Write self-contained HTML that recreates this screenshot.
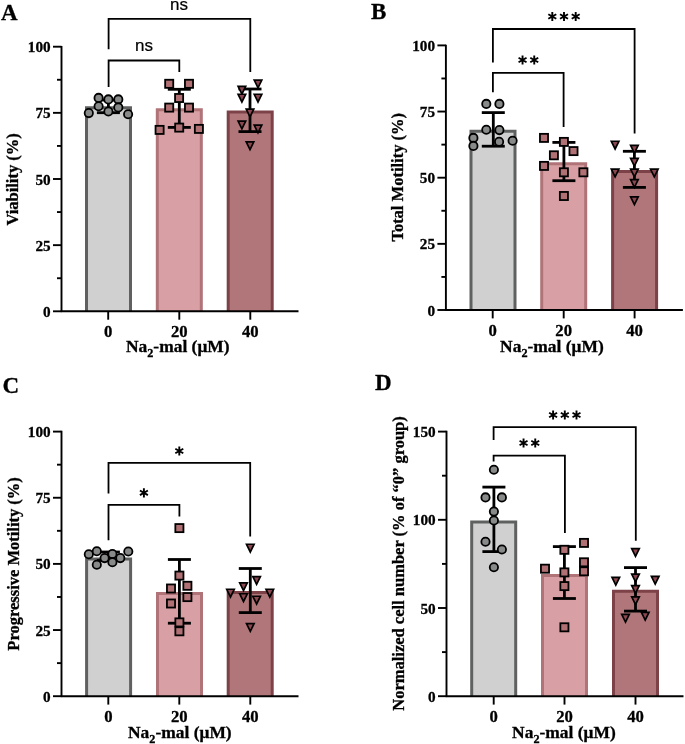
<!DOCTYPE html>
<html><head><meta charset="utf-8"><title>Figure</title>
<style>html,body{margin:0;padding:0;background:#fff;}svg{display:block;} text[font-weight="bold"]{stroke:#000;stroke-width:0.3px;} text[font-weight="normal"]{stroke:#000;stroke-width:0.2px;}</style></head>
<body style="will-change:transform"><svg width="685" height="744" viewBox="0 0 685 744">
<rect width="685" height="744" fill="#fff"/>
<path d="M86.5 311.3V107.8H130.5V311.3" fill="#d0d0d0" stroke="#5f6160" stroke-width="3.0"/>
<path d="M157.3 311.3V109.8H201.3V311.3" fill="#d8a0a4" stroke="#b07478" stroke-width="3.0"/>
<path d="M228.2 311.3V112H272.2V311.3" fill="#b0767a" stroke="#7c4248" stroke-width="3.0"/>
<line x1="108.4" y1="100" x2="108.4" y2="112.7" stroke="#000" stroke-width="2.8" stroke-linecap="butt"/>
<line x1="96.9" y1="100" x2="119.9" y2="100" stroke="#000" stroke-width="2.8" stroke-linecap="butt"/>
<line x1="96.9" y1="112.7" x2="119.9" y2="112.7" stroke="#000" stroke-width="2.8" stroke-linecap="butt"/>
<line x1="179.3" y1="89.3" x2="179.3" y2="127.4" stroke="#000" stroke-width="2.8" stroke-linecap="butt"/>
<line x1="167.8" y1="89.3" x2="190.8" y2="89.3" stroke="#000" stroke-width="2.8" stroke-linecap="butt"/>
<line x1="167.8" y1="127.4" x2="190.8" y2="127.4" stroke="#000" stroke-width="2.8" stroke-linecap="butt"/>
<line x1="250" y1="89" x2="250" y2="131.6" stroke="#000" stroke-width="2.8" stroke-linecap="butt"/>
<line x1="238.5" y1="89" x2="261.5" y2="89" stroke="#000" stroke-width="2.8" stroke-linecap="butt"/>
<line x1="238.5" y1="131.6" x2="261.5" y2="131.6" stroke="#000" stroke-width="2.8" stroke-linecap="butt"/>
<circle cx="98.6" cy="97.9" r="4.15" fill="#878a88" stroke="#000" stroke-width="1.8"/>
<circle cx="108.4" cy="99.4" r="4.15" fill="#878a88" stroke="#000" stroke-width="1.8"/>
<circle cx="118.3" cy="99.4" r="4.15" fill="#878a88" stroke="#000" stroke-width="1.8"/>
<circle cx="98.6" cy="106.2" r="4.15" fill="#878a88" stroke="#000" stroke-width="1.8"/>
<circle cx="118.3" cy="107.4" r="4.15" fill="#878a88" stroke="#000" stroke-width="1.8"/>
<circle cx="88.8" cy="113.1" r="4.15" fill="#878a88" stroke="#000" stroke-width="1.8"/>
<circle cx="108.4" cy="111.5" r="4.15" fill="#878a88" stroke="#000" stroke-width="1.8"/>
<circle cx="128.1" cy="114.2" r="4.15" fill="#878a88" stroke="#000" stroke-width="1.8"/>
<rect x="165.15" y="79.75" width="8.1" height="8.1" fill="#b07074" stroke="#000" stroke-width="1.8"/>
<rect x="184.95" y="79.75" width="8.1" height="8.1" fill="#b07074" stroke="#000" stroke-width="1.8"/>
<rect x="175.05" y="93.95" width="8.1" height="8.1" fill="#b07074" stroke="#000" stroke-width="1.8"/>
<rect x="165.15" y="103.55" width="8.1" height="8.1" fill="#b07074" stroke="#000" stroke-width="1.8"/>
<rect x="184.95" y="103.55" width="8.1" height="8.1" fill="#b07074" stroke="#000" stroke-width="1.8"/>
<rect x="155.55" y="125.85" width="8.1" height="8.1" fill="#b07074" stroke="#000" stroke-width="1.8"/>
<rect x="175.15" y="123.55" width="8.1" height="8.1" fill="#b07074" stroke="#000" stroke-width="1.8"/>
<rect x="194.85" y="124.85" width="8.1" height="8.1" fill="#b07074" stroke="#000" stroke-width="1.8"/>
<path d="M254.21 80.05L261.79 80.05L258 87.77Z" fill="#8c4850" stroke="#000" stroke-width="1.7" stroke-linejoin="miter"/>
<path d="M238.11 86.45L245.69 86.45L241.9 94.17Z" fill="#8c4850" stroke="#000" stroke-width="1.7" stroke-linejoin="miter"/>
<path d="M238.11 94.25L245.69 94.25L241.9 101.97Z" fill="#8c4850" stroke="#000" stroke-width="1.7" stroke-linejoin="miter"/>
<path d="M254.21 94.25L261.79 94.25L258 101.97Z" fill="#8c4850" stroke="#000" stroke-width="1.7" stroke-linejoin="miter"/>
<path d="M246.21 109.05L253.79 109.05L250 116.77Z" fill="#8c4850" stroke="#000" stroke-width="1.7" stroke-linejoin="miter"/>
<path d="M238.11 121.05L245.69 121.05L241.9 128.77Z" fill="#8c4850" stroke="#000" stroke-width="1.7" stroke-linejoin="miter"/>
<path d="M254.21 125.15L261.79 125.15L258 132.87Z" fill="#8c4850" stroke="#000" stroke-width="1.7" stroke-linejoin="miter"/>
<path d="M246.21 141.85L253.79 141.85L250 149.57Z" fill="#8c4850" stroke="#000" stroke-width="1.7" stroke-linejoin="miter"/>
<line x1="61.5" y1="45.95" x2="61.5" y2="312.05" stroke="#000" stroke-width="1.9" stroke-linecap="butt"/>
<line x1="60.75" y1="311.3" x2="298.5" y2="311.3" stroke="#000" stroke-width="1.9" stroke-linecap="butt"/>
<line x1="53" y1="311.3" x2="61.5" y2="311.3" stroke="#000" stroke-width="1.9" stroke-linecap="butt"/>
<text x="50.6" y="316.8" font-family='"Liberation Serif", serif' font-size="15.2" font-weight="bold" text-anchor="end" >0</text>
<line x1="53" y1="245.15" x2="61.5" y2="245.15" stroke="#000" stroke-width="1.9" stroke-linecap="butt"/>
<text x="50.6" y="250.65" font-family='"Liberation Serif", serif' font-size="15.2" font-weight="bold" text-anchor="end" >25</text>
<line x1="53" y1="179" x2="61.5" y2="179" stroke="#000" stroke-width="1.9" stroke-linecap="butt"/>
<text x="50.6" y="184.5" font-family='"Liberation Serif", serif' font-size="15.2" font-weight="bold" text-anchor="end" >50</text>
<line x1="53" y1="112.85" x2="61.5" y2="112.85" stroke="#000" stroke-width="1.9" stroke-linecap="butt"/>
<text x="50.6" y="118.35" font-family='"Liberation Serif", serif' font-size="15.2" font-weight="bold" text-anchor="end" >75</text>
<line x1="53" y1="46.7" x2="61.5" y2="46.7" stroke="#000" stroke-width="1.9" stroke-linecap="butt"/>
<text x="50.6" y="52.2" font-family='"Liberation Serif", serif' font-size="15.2" font-weight="bold" text-anchor="end" >100</text>
<line x1="57" y1="278.23" x2="61.5" y2="278.23" stroke="#000" stroke-width="1.9" stroke-linecap="butt"/>
<line x1="57" y1="212.07" x2="61.5" y2="212.07" stroke="#000" stroke-width="1.9" stroke-linecap="butt"/>
<line x1="57" y1="145.92" x2="61.5" y2="145.92" stroke="#000" stroke-width="1.9" stroke-linecap="butt"/>
<line x1="57" y1="79.77" x2="61.5" y2="79.77" stroke="#000" stroke-width="1.9" stroke-linecap="butt"/>
<line x1="108.2" y1="311.3" x2="108.2" y2="319.7" stroke="#000" stroke-width="1.9" stroke-linecap="butt"/>
<text x="108.2" y="336.8" font-family='"Liberation Serif", serif' font-size="16.7" font-weight="bold" text-anchor="middle" >0</text>
<line x1="179.3" y1="311.3" x2="179.3" y2="319.7" stroke="#000" stroke-width="1.9" stroke-linecap="butt"/>
<text x="179.3" y="336.8" font-family='"Liberation Serif", serif' font-size="16.7" font-weight="bold" text-anchor="middle" >20</text>
<line x1="250.3" y1="311.3" x2="250.3" y2="319.7" stroke="#000" stroke-width="1.9" stroke-linecap="butt"/>
<text x="250.3" y="336.8" font-family='"Liberation Serif", serif' font-size="16.7" font-weight="bold" text-anchor="middle" >40</text>
<text transform="translate(125.9 352.2) scale(1.02 1)" font-family='"Liberation Serif", serif' font-size="17.1" font-weight="bold">Na<tspan font-size="12" dy="4.6">2</tspan><tspan dy="-4.6">-mal (μM)</tspan></text>
<text transform="translate(18 179.4) rotate(-90) scale(1 1.06)" x="0" y="0" font-family='"Liberation Serif", serif' font-size="16.5" font-weight="bold" text-anchor="middle">Viability (%)</text>
<text x="1" y="19.7" font-family='"Liberation Serif", serif' font-size="23" font-weight="bold" text-anchor="start" >A</text>
<path d="M108.6 49.3V18.9H250.3V72.1" fill="none" stroke="#000" stroke-width="1.8"/>
<path d="M108.6 86.9V60.5H179.3V72.1" fill="none" stroke="#000" stroke-width="1.8"/>
<text x="179" y="10" font-family='"Liberation Sans", sans-serif' font-size="17" font-weight="normal" text-anchor="middle" >ns</text>
<text x="144" y="51.4" font-family='"Liberation Sans", sans-serif' font-size="17" font-weight="normal" text-anchor="middle" >ns</text>
<path d="M471 310V131.2H515V310" fill="#d0d0d0" stroke="#5f6160" stroke-width="3.0"/>
<path d="M541.7 310V163.8H585.7V310" fill="#d8a0a4" stroke="#b07478" stroke-width="3.0"/>
<path d="M612.6 310V171.5H656.6V310" fill="#b0767a" stroke="#7c4248" stroke-width="3.0"/>
<line x1="493.3" y1="112.6" x2="493.3" y2="146.2" stroke="#000" stroke-width="2.8" stroke-linecap="butt"/>
<line x1="481.8" y1="112.6" x2="504.8" y2="112.6" stroke="#000" stroke-width="2.8" stroke-linecap="butt"/>
<line x1="481.8" y1="146.2" x2="504.8" y2="146.2" stroke="#000" stroke-width="2.8" stroke-linecap="butt"/>
<line x1="563.9" y1="142.4" x2="563.9" y2="180.7" stroke="#000" stroke-width="2.8" stroke-linecap="butt"/>
<line x1="552.4" y1="142.4" x2="575.4" y2="142.4" stroke="#000" stroke-width="2.8" stroke-linecap="butt"/>
<line x1="552.4" y1="180.7" x2="575.4" y2="180.7" stroke="#000" stroke-width="2.8" stroke-linecap="butt"/>
<line x1="634.4" y1="151.3" x2="634.4" y2="187.4" stroke="#000" stroke-width="2.8" stroke-linecap="butt"/>
<line x1="622.9" y1="151.3" x2="645.9" y2="151.3" stroke="#000" stroke-width="2.8" stroke-linecap="butt"/>
<line x1="622.9" y1="187.4" x2="645.9" y2="187.4" stroke="#000" stroke-width="2.8" stroke-linecap="butt"/>
<circle cx="486.3" cy="103.9" r="4.15" fill="#878a88" stroke="#000" stroke-width="1.8"/>
<circle cx="499.4" cy="103.9" r="4.15" fill="#878a88" stroke="#000" stroke-width="1.8"/>
<circle cx="486.3" cy="129.7" r="4.15" fill="#878a88" stroke="#000" stroke-width="1.8"/>
<circle cx="499.4" cy="130.1" r="4.15" fill="#878a88" stroke="#000" stroke-width="1.8"/>
<circle cx="473.4" cy="137.9" r="4.15" fill="#878a88" stroke="#000" stroke-width="1.8"/>
<circle cx="512.6" cy="140.8" r="4.15" fill="#878a88" stroke="#000" stroke-width="1.8"/>
<circle cx="499.1" cy="141.8" r="4.15" fill="#878a88" stroke="#000" stroke-width="1.8"/>
<circle cx="473.4" cy="145.9" r="4.15" fill="#878a88" stroke="#000" stroke-width="1.8"/>
<rect x="539.95" y="133.85" width="8.1" height="8.1" fill="#b07074" stroke="#000" stroke-width="1.8"/>
<rect x="559.85" y="137.85" width="8.1" height="8.1" fill="#b07074" stroke="#000" stroke-width="1.8"/>
<rect x="569.45" y="147.05" width="8.1" height="8.1" fill="#b07074" stroke="#000" stroke-width="1.8"/>
<rect x="549.85" y="151.25" width="8.1" height="8.1" fill="#b07074" stroke="#000" stroke-width="1.8"/>
<rect x="539.95" y="161.85" width="8.1" height="8.1" fill="#b07074" stroke="#000" stroke-width="1.8"/>
<rect x="559.85" y="168.25" width="8.1" height="8.1" fill="#b07074" stroke="#000" stroke-width="1.8"/>
<rect x="579.35" y="168.25" width="8.1" height="8.1" fill="#b07074" stroke="#000" stroke-width="1.8"/>
<rect x="559.85" y="191.95" width="8.1" height="8.1" fill="#b07074" stroke="#000" stroke-width="1.8"/>
<path d="M611.31 141.25L618.89 141.25L615.1 148.97Z" fill="#8c4850" stroke="#000" stroke-width="1.7" stroke-linejoin="miter"/>
<path d="M630.61 145.45L638.19 145.45L634.4 153.17Z" fill="#8c4850" stroke="#000" stroke-width="1.7" stroke-linejoin="miter"/>
<path d="M630.61 158.35L638.19 158.35L634.4 166.07Z" fill="#8c4850" stroke="#000" stroke-width="1.7" stroke-linejoin="miter"/>
<path d="M611.31 169.15L618.89 169.15L615.1 176.87Z" fill="#8c4850" stroke="#000" stroke-width="1.7" stroke-linejoin="miter"/>
<path d="M630.61 169.15L638.19 169.15L634.4 176.87Z" fill="#8c4850" stroke="#000" stroke-width="1.7" stroke-linejoin="miter"/>
<path d="M650.51 169.15L658.09 169.15L654.3 176.87Z" fill="#8c4850" stroke="#000" stroke-width="1.7" stroke-linejoin="miter"/>
<path d="M630.61 179.65L638.19 179.65L634.4 187.37Z" fill="#8c4850" stroke="#000" stroke-width="1.7" stroke-linejoin="miter"/>
<path d="M630.61 196.85L638.19 196.85L634.4 204.57Z" fill="#8c4850" stroke="#000" stroke-width="1.7" stroke-linejoin="miter"/>
<line x1="445.9" y1="44.65" x2="445.9" y2="310.75" stroke="#000" stroke-width="1.9" stroke-linecap="butt"/>
<line x1="445.15" y1="310" x2="682.9" y2="310" stroke="#000" stroke-width="1.9" stroke-linecap="butt"/>
<line x1="437.4" y1="310" x2="445.9" y2="310" stroke="#000" stroke-width="1.9" stroke-linecap="butt"/>
<text x="435" y="315.5" font-family='"Liberation Serif", serif' font-size="15.2" font-weight="bold" text-anchor="end" >0</text>
<line x1="437.4" y1="243.85" x2="445.9" y2="243.85" stroke="#000" stroke-width="1.9" stroke-linecap="butt"/>
<text x="435" y="249.35" font-family='"Liberation Serif", serif' font-size="15.2" font-weight="bold" text-anchor="end" >25</text>
<line x1="437.4" y1="177.7" x2="445.9" y2="177.7" stroke="#000" stroke-width="1.9" stroke-linecap="butt"/>
<text x="435" y="183.2" font-family='"Liberation Serif", serif' font-size="15.2" font-weight="bold" text-anchor="end" >50</text>
<line x1="437.4" y1="111.55" x2="445.9" y2="111.55" stroke="#000" stroke-width="1.9" stroke-linecap="butt"/>
<text x="435" y="117.05" font-family='"Liberation Serif", serif' font-size="15.2" font-weight="bold" text-anchor="end" >75</text>
<line x1="437.4" y1="45.4" x2="445.9" y2="45.4" stroke="#000" stroke-width="1.9" stroke-linecap="butt"/>
<text x="435" y="50.9" font-family='"Liberation Serif", serif' font-size="15.2" font-weight="bold" text-anchor="end" >100</text>
<line x1="441.4" y1="276.93" x2="445.9" y2="276.93" stroke="#000" stroke-width="1.9" stroke-linecap="butt"/>
<line x1="441.4" y1="210.77" x2="445.9" y2="210.77" stroke="#000" stroke-width="1.9" stroke-linecap="butt"/>
<line x1="441.4" y1="144.62" x2="445.9" y2="144.62" stroke="#000" stroke-width="1.9" stroke-linecap="butt"/>
<line x1="441.4" y1="78.47" x2="445.9" y2="78.47" stroke="#000" stroke-width="1.9" stroke-linecap="butt"/>
<line x1="492.7" y1="310" x2="492.7" y2="318.4" stroke="#000" stroke-width="1.9" stroke-linecap="butt"/>
<text x="492.7" y="335.5" font-family='"Liberation Serif", serif' font-size="16.7" font-weight="bold" text-anchor="middle" >0</text>
<line x1="563.7" y1="310" x2="563.7" y2="318.4" stroke="#000" stroke-width="1.9" stroke-linecap="butt"/>
<text x="563.7" y="335.5" font-family='"Liberation Serif", serif' font-size="16.7" font-weight="bold" text-anchor="middle" >20</text>
<line x1="634.6" y1="310" x2="634.6" y2="318.4" stroke="#000" stroke-width="1.9" stroke-linecap="butt"/>
<text x="634.6" y="335.5" font-family='"Liberation Serif", serif' font-size="16.7" font-weight="bold" text-anchor="middle" >40</text>
<text transform="translate(500.1 352) scale(1.02 1)" font-family='"Liberation Serif", serif' font-size="17.1" font-weight="bold">Na<tspan font-size="12" dy="4.6">2</tspan><tspan dy="-4.6">-mal (μM)</tspan></text>
<text transform="translate(402.6 177.3) rotate(-90) scale(1 1.06)" x="0" y="0" font-family='"Liberation Serif", serif' font-size="16.5" font-weight="bold" text-anchor="middle">Total Motility (%)</text>
<text x="371" y="19.3" font-family='"Liberation Serif", serif' font-size="23" font-weight="bold" text-anchor="start" >B</text>
<path d="M492.9 62.5V29H634.6V133.6" fill="none" stroke="#000" stroke-width="1.8"/>
<path d="M492.9 92.2V72.8H563.6V126.9" fill="none" stroke="#000" stroke-width="1.8"/>
<path d="M552.3 21.1L552.3 11.9M548.32 18.8L556.28 14.2M548.32 14.2L556.28 18.8" stroke="#000" stroke-width="1.9" fill="none"/>
<path d="M564 21.1L564 11.9M560.02 18.8L567.98 14.2M560.02 14.2L567.98 18.8" stroke="#000" stroke-width="1.9" fill="none"/>
<path d="M575.7 21.1L575.7 11.9M571.72 18.8L579.68 14.2M571.72 14.2L579.68 18.8" stroke="#000" stroke-width="1.9" fill="none"/>
<path d="M522.55 64.6L522.55 55.4M518.57 62.3L526.53 57.7M518.57 57.7L526.53 62.3" stroke="#000" stroke-width="1.9" fill="none"/>
<path d="M534.25 64.6L534.25 55.4M530.27 62.3L538.23 57.7M530.27 57.7L538.23 62.3" stroke="#000" stroke-width="1.9" fill="none"/>
<path d="M86.6 696.2V558.9H130.6V696.2" fill="#d0d0d0" stroke="#5f6160" stroke-width="3.0"/>
<path d="M157.5 696.2V593.6H201.5V696.2" fill="#d8a0a4" stroke="#b07478" stroke-width="3.0"/>
<path d="M228.2 696.2V592.4H272.2V696.2" fill="#b0767a" stroke="#7c4248" stroke-width="3.0"/>
<line x1="108.4" y1="552" x2="108.4" y2="560.5" stroke="#000" stroke-width="2.8" stroke-linecap="butt"/>
<line x1="96.9" y1="552" x2="119.9" y2="552" stroke="#000" stroke-width="2.8" stroke-linecap="butt"/>
<line x1="96.9" y1="560.5" x2="119.9" y2="560.5" stroke="#000" stroke-width="2.8" stroke-linecap="butt"/>
<line x1="179.4" y1="559.5" x2="179.4" y2="623.2" stroke="#000" stroke-width="2.8" stroke-linecap="butt"/>
<line x1="167.9" y1="559.5" x2="190.9" y2="559.5" stroke="#000" stroke-width="2.8" stroke-linecap="butt"/>
<line x1="167.9" y1="623.2" x2="190.9" y2="623.2" stroke="#000" stroke-width="2.8" stroke-linecap="butt"/>
<line x1="250.3" y1="568.5" x2="250.3" y2="612.6" stroke="#000" stroke-width="2.8" stroke-linecap="butt"/>
<line x1="238.8" y1="568.5" x2="261.8" y2="568.5" stroke="#000" stroke-width="2.8" stroke-linecap="butt"/>
<line x1="238.8" y1="612.6" x2="261.8" y2="612.6" stroke="#000" stroke-width="2.8" stroke-linecap="butt"/>
<circle cx="88.8" cy="554.3" r="4.15" fill="#878a88" stroke="#000" stroke-width="1.8"/>
<circle cx="96.8" cy="551.3" r="4.15" fill="#878a88" stroke="#000" stroke-width="1.8"/>
<circle cx="112.4" cy="554" r="4.15" fill="#878a88" stroke="#000" stroke-width="1.8"/>
<circle cx="128.3" cy="551.5" r="4.15" fill="#878a88" stroke="#000" stroke-width="1.8"/>
<circle cx="104.6" cy="558.1" r="4.15" fill="#878a88" stroke="#000" stroke-width="1.8"/>
<circle cx="120.3" cy="558.1" r="4.15" fill="#878a88" stroke="#000" stroke-width="1.8"/>
<circle cx="96.8" cy="564.7" r="4.15" fill="#878a88" stroke="#000" stroke-width="1.8"/>
<circle cx="112.4" cy="562.3" r="4.15" fill="#878a88" stroke="#000" stroke-width="1.8"/>
<rect x="175.35" y="524.05" width="8.1" height="8.1" fill="#b07074" stroke="#000" stroke-width="1.8"/>
<rect x="175.35" y="571.55" width="8.1" height="8.1" fill="#b07074" stroke="#000" stroke-width="1.8"/>
<rect x="166.95" y="584.45" width="8.1" height="8.1" fill="#b07074" stroke="#000" stroke-width="1.8"/>
<rect x="183.35" y="581.75" width="8.1" height="8.1" fill="#b07074" stroke="#000" stroke-width="1.8"/>
<rect x="183.35" y="593.05" width="8.1" height="8.1" fill="#b07074" stroke="#000" stroke-width="1.8"/>
<rect x="166.95" y="599.45" width="8.1" height="8.1" fill="#b07074" stroke="#000" stroke-width="1.8"/>
<rect x="175.35" y="618.35" width="8.1" height="8.1" fill="#b07074" stroke="#000" stroke-width="1.8"/>
<rect x="175.35" y="627.25" width="8.1" height="8.1" fill="#b07074" stroke="#000" stroke-width="1.8"/>
<path d="M246.51 544.25L254.09 544.25L250.3 551.97Z" fill="#8c4850" stroke="#000" stroke-width="1.7" stroke-linejoin="miter"/>
<path d="M252.81 576.55L260.39 576.55L256.6 584.27Z" fill="#8c4850" stroke="#000" stroke-width="1.7" stroke-linejoin="miter"/>
<path d="M239.71 582.85L247.29 582.85L243.5 590.57Z" fill="#8c4850" stroke="#000" stroke-width="1.7" stroke-linejoin="miter"/>
<path d="M226.71 589.25L234.29 589.25L230.5 596.97Z" fill="#8c4850" stroke="#000" stroke-width="1.7" stroke-linejoin="miter"/>
<path d="M266.01 589.25L273.59 589.25L269.8 596.97Z" fill="#8c4850" stroke="#000" stroke-width="1.7" stroke-linejoin="miter"/>
<path d="M239.71 593.75L247.29 593.75L243.5 601.47Z" fill="#8c4850" stroke="#000" stroke-width="1.7" stroke-linejoin="miter"/>
<path d="M252.81 596.25L260.39 596.25L256.6 603.97Z" fill="#8c4850" stroke="#000" stroke-width="1.7" stroke-linejoin="miter"/>
<path d="M246.51 623.55L254.09 623.55L250.3 631.27Z" fill="#8c4850" stroke="#000" stroke-width="1.7" stroke-linejoin="miter"/>
<line x1="61.5" y1="430.85" x2="61.5" y2="696.95" stroke="#000" stroke-width="1.9" stroke-linecap="butt"/>
<line x1="60.75" y1="696.2" x2="298.5" y2="696.2" stroke="#000" stroke-width="1.9" stroke-linecap="butt"/>
<line x1="53" y1="696.2" x2="61.5" y2="696.2" stroke="#000" stroke-width="1.9" stroke-linecap="butt"/>
<text x="50.6" y="701.7" font-family='"Liberation Serif", serif' font-size="15.2" font-weight="bold" text-anchor="end" >0</text>
<line x1="53" y1="630.05" x2="61.5" y2="630.05" stroke="#000" stroke-width="1.9" stroke-linecap="butt"/>
<text x="50.6" y="635.55" font-family='"Liberation Serif", serif' font-size="15.2" font-weight="bold" text-anchor="end" >25</text>
<line x1="53" y1="563.9" x2="61.5" y2="563.9" stroke="#000" stroke-width="1.9" stroke-linecap="butt"/>
<text x="50.6" y="569.4" font-family='"Liberation Serif", serif' font-size="15.2" font-weight="bold" text-anchor="end" >50</text>
<line x1="53" y1="497.75" x2="61.5" y2="497.75" stroke="#000" stroke-width="1.9" stroke-linecap="butt"/>
<text x="50.6" y="503.25" font-family='"Liberation Serif", serif' font-size="15.2" font-weight="bold" text-anchor="end" >75</text>
<line x1="53" y1="431.6" x2="61.5" y2="431.6" stroke="#000" stroke-width="1.9" stroke-linecap="butt"/>
<text x="50.6" y="437.1" font-family='"Liberation Serif", serif' font-size="15.2" font-weight="bold" text-anchor="end" >100</text>
<line x1="57" y1="663.12" x2="61.5" y2="663.12" stroke="#000" stroke-width="1.9" stroke-linecap="butt"/>
<line x1="57" y1="596.98" x2="61.5" y2="596.98" stroke="#000" stroke-width="1.9" stroke-linecap="butt"/>
<line x1="57" y1="530.83" x2="61.5" y2="530.83" stroke="#000" stroke-width="1.9" stroke-linecap="butt"/>
<line x1="57" y1="464.68" x2="61.5" y2="464.68" stroke="#000" stroke-width="1.9" stroke-linecap="butt"/>
<line x1="108.3" y1="696.2" x2="108.3" y2="704.6" stroke="#000" stroke-width="1.9" stroke-linecap="butt"/>
<text x="108.3" y="721.7" font-family='"Liberation Serif", serif' font-size="16.7" font-weight="bold" text-anchor="middle" >0</text>
<line x1="179.3" y1="696.2" x2="179.3" y2="704.6" stroke="#000" stroke-width="1.9" stroke-linecap="butt"/>
<text x="179.3" y="721.7" font-family='"Liberation Serif", serif' font-size="16.7" font-weight="bold" text-anchor="middle" >20</text>
<line x1="250.3" y1="696.2" x2="250.3" y2="704.6" stroke="#000" stroke-width="1.9" stroke-linecap="butt"/>
<text x="250.3" y="721.7" font-family='"Liberation Serif", serif' font-size="16.7" font-weight="bold" text-anchor="middle" >40</text>
<text transform="translate(128 738.2) scale(1.02 1)" font-family='"Liberation Serif", serif' font-size="17.1" font-weight="bold">Na<tspan font-size="12" dy="4.6">2</tspan><tspan dy="-4.6">-mal (μM)</tspan></text>
<text transform="translate(18.5 563.9) rotate(-90) scale(1 1.06)" x="0" y="0" font-family='"Liberation Serif", serif' font-size="16.5" font-weight="bold" text-anchor="middle">Progressive Motility (%)</text>
<text x="2.5" y="393" font-family='"Liberation Serif", serif' font-size="23" font-weight="bold" text-anchor="start" >C</text>
<path d="M108.5 493.5V462.8H250.2V536.4" fill="none" stroke="#000" stroke-width="1.8"/>
<path d="M108.5 540.2V504.9H179.4V516.6" fill="none" stroke="#000" stroke-width="1.8"/>
<path d="M179.3 455.6L179.3 446.4M175.32 453.3L183.28 448.7M175.32 448.7L183.28 453.3" stroke="#000" stroke-width="1.9" fill="none"/>
<path d="M143.9 497.4L143.9 488.2M139.92 495.1L147.88 490.5M139.92 490.5L147.88 495.1" stroke="#000" stroke-width="1.9" fill="none"/>
<path d="M471.7 696.2V522H515.7V696.2" fill="#d0d0d0" stroke="#5f6160" stroke-width="3.0"/>
<path d="M542.5 696.2V575.5H586.5V696.2" fill="#d8a0a4" stroke="#b07478" stroke-width="3.0"/>
<path d="M613.5 696.2V591.2H657.5V696.2" fill="#b0767a" stroke="#7c4248" stroke-width="3.0"/>
<line x1="493.9" y1="487.1" x2="493.9" y2="551.6" stroke="#000" stroke-width="2.8" stroke-linecap="butt"/>
<line x1="482.4" y1="487.1" x2="505.4" y2="487.1" stroke="#000" stroke-width="2.8" stroke-linecap="butt"/>
<line x1="482.4" y1="551.6" x2="505.4" y2="551.6" stroke="#000" stroke-width="2.8" stroke-linecap="butt"/>
<line x1="564.4" y1="546.6" x2="564.4" y2="598.5" stroke="#000" stroke-width="2.8" stroke-linecap="butt"/>
<line x1="552.9" y1="546.6" x2="575.9" y2="546.6" stroke="#000" stroke-width="2.8" stroke-linecap="butt"/>
<line x1="552.9" y1="598.5" x2="575.9" y2="598.5" stroke="#000" stroke-width="2.8" stroke-linecap="butt"/>
<line x1="635.5" y1="567.6" x2="635.5" y2="611.1" stroke="#000" stroke-width="2.8" stroke-linecap="butt"/>
<line x1="624" y1="567.6" x2="647" y2="567.6" stroke="#000" stroke-width="2.8" stroke-linecap="butt"/>
<line x1="624" y1="611.1" x2="647" y2="611.1" stroke="#000" stroke-width="2.8" stroke-linecap="butt"/>
<circle cx="493.9" cy="469.7" r="4.15" fill="#878a88" stroke="#000" stroke-width="1.8"/>
<circle cx="485.5" cy="497.4" r="4.15" fill="#878a88" stroke="#000" stroke-width="1.8"/>
<circle cx="501.9" cy="497.4" r="4.15" fill="#878a88" stroke="#000" stroke-width="1.8"/>
<circle cx="493.9" cy="511.6" r="4.15" fill="#878a88" stroke="#000" stroke-width="1.8"/>
<circle cx="493.9" cy="520.5" r="4.15" fill="#878a88" stroke="#000" stroke-width="1.8"/>
<circle cx="485.5" cy="541.8" r="4.15" fill="#878a88" stroke="#000" stroke-width="1.8"/>
<circle cx="501.9" cy="549.5" r="4.15" fill="#878a88" stroke="#000" stroke-width="1.8"/>
<circle cx="493.9" cy="567.3" r="4.15" fill="#878a88" stroke="#000" stroke-width="1.8"/>
<rect x="579.95" y="538.85" width="8.1" height="8.1" fill="#b07074" stroke="#000" stroke-width="1.8"/>
<rect x="560.35" y="545.75" width="8.1" height="8.1" fill="#b07074" stroke="#000" stroke-width="1.8"/>
<rect x="579.95" y="558.25" width="8.1" height="8.1" fill="#b07074" stroke="#000" stroke-width="1.8"/>
<rect x="540.95" y="564.65" width="8.1" height="8.1" fill="#b07074" stroke="#000" stroke-width="1.8"/>
<rect x="579.95" y="567.25" width="8.1" height="8.1" fill="#b07074" stroke="#000" stroke-width="1.8"/>
<rect x="560.35" y="568.35" width="8.1" height="8.1" fill="#b07074" stroke="#000" stroke-width="1.8"/>
<rect x="560.35" y="582.05" width="8.1" height="8.1" fill="#b07074" stroke="#000" stroke-width="1.8"/>
<rect x="560.35" y="623.25" width="8.1" height="8.1" fill="#b07074" stroke="#000" stroke-width="1.8"/>
<path d="M631.71 548.55L639.29 548.55L635.5 556.27Z" fill="#8c4850" stroke="#000" stroke-width="1.7" stroke-linejoin="miter"/>
<path d="M612.01 577.35L619.59 577.35L615.8 585.07Z" fill="#8c4850" stroke="#000" stroke-width="1.7" stroke-linejoin="miter"/>
<path d="M631.71 574.05L639.29 574.05L635.5 581.77Z" fill="#8c4850" stroke="#000" stroke-width="1.7" stroke-linejoin="miter"/>
<path d="M651.41 576.45L658.99 576.45L655.2 584.17Z" fill="#8c4850" stroke="#000" stroke-width="1.7" stroke-linejoin="miter"/>
<path d="M631.71 585.65L639.29 585.65L635.5 593.37Z" fill="#8c4850" stroke="#000" stroke-width="1.7" stroke-linejoin="miter"/>
<path d="M631.71 596.95L639.29 596.95L635.5 604.67Z" fill="#8c4850" stroke="#000" stroke-width="1.7" stroke-linejoin="miter"/>
<path d="M621.71 614.35L629.29 614.35L625.5 622.07Z" fill="#8c4850" stroke="#000" stroke-width="1.7" stroke-linejoin="miter"/>
<path d="M641.41 612.45L648.99 612.45L645.2 620.17Z" fill="#8c4850" stroke="#000" stroke-width="1.7" stroke-linejoin="miter"/>
<line x1="446.5" y1="430.85" x2="446.5" y2="696.95" stroke="#000" stroke-width="1.9" stroke-linecap="butt"/>
<line x1="445.75" y1="696.2" x2="683.5" y2="696.2" stroke="#000" stroke-width="1.9" stroke-linecap="butt"/>
<line x1="438" y1="696.2" x2="446.5" y2="696.2" stroke="#000" stroke-width="1.9" stroke-linecap="butt"/>
<text x="435.6" y="701.7" font-family='"Liberation Serif", serif' font-size="15.2" font-weight="bold" text-anchor="end" >0</text>
<line x1="438" y1="608" x2="446.5" y2="608" stroke="#000" stroke-width="1.9" stroke-linecap="butt"/>
<text x="435.6" y="613.5" font-family='"Liberation Serif", serif' font-size="15.2" font-weight="bold" text-anchor="end" >50</text>
<line x1="438" y1="519.8" x2="446.5" y2="519.8" stroke="#000" stroke-width="1.9" stroke-linecap="butt"/>
<text x="435.6" y="525.3" font-family='"Liberation Serif", serif' font-size="15.2" font-weight="bold" text-anchor="end" >100</text>
<line x1="438" y1="431.6" x2="446.5" y2="431.6" stroke="#000" stroke-width="1.9" stroke-linecap="butt"/>
<text x="435.6" y="437.1" font-family='"Liberation Serif", serif' font-size="15.2" font-weight="bold" text-anchor="end" >150</text>
<line x1="442" y1="652.1" x2="446.5" y2="652.1" stroke="#000" stroke-width="1.9" stroke-linecap="butt"/>
<line x1="442" y1="563.9" x2="446.5" y2="563.9" stroke="#000" stroke-width="1.9" stroke-linecap="butt"/>
<line x1="442" y1="475.7" x2="446.5" y2="475.7" stroke="#000" stroke-width="1.9" stroke-linecap="butt"/>
<line x1="493.7" y1="696.2" x2="493.7" y2="704.6" stroke="#000" stroke-width="1.9" stroke-linecap="butt"/>
<text x="493.7" y="721.7" font-family='"Liberation Serif", serif' font-size="16.7" font-weight="bold" text-anchor="middle" >0</text>
<line x1="564.5" y1="696.2" x2="564.5" y2="704.6" stroke="#000" stroke-width="1.9" stroke-linecap="butt"/>
<text x="564.5" y="721.7" font-family='"Liberation Serif", serif' font-size="16.7" font-weight="bold" text-anchor="middle" >20</text>
<line x1="635.5" y1="696.2" x2="635.5" y2="704.6" stroke="#000" stroke-width="1.9" stroke-linecap="butt"/>
<text x="635.5" y="721.7" font-family='"Liberation Serif", serif' font-size="16.7" font-weight="bold" text-anchor="middle" >40</text>
<text transform="translate(512.1 738.2) scale(1.02 1)" font-family='"Liberation Serif", serif' font-size="17.1" font-weight="bold">Na<tspan font-size="12" dy="4.6">2</tspan><tspan dy="-4.6">-mal (μM)</tspan></text>
<text transform="translate(404 563.5) rotate(-90) scale(1 1.06)" x="0" y="0" font-family='"Liberation Serif", serif' font-size="16.5" font-weight="bold" text-anchor="middle">Normalized cell number (% of “0” group)</text>
<text x="375" y="389.5" font-family='"Liberation Serif", serif' font-size="23" font-weight="bold" text-anchor="start" >D</text>
<path d="M493.6 440V427.1H635.8V540.7" fill="none" stroke="#000" stroke-width="1.8"/>
<path d="M493.6 461.5V455.6H564.9V533.1" fill="none" stroke="#000" stroke-width="1.8"/>
<path d="M553.1 419.6L553.1 410.4M549.12 417.3L557.08 412.7M549.12 412.7L557.08 417.3" stroke="#000" stroke-width="1.9" fill="none"/>
<path d="M564.8 419.6L564.8 410.4M560.82 417.3L568.78 412.7M560.82 412.7L568.78 417.3" stroke="#000" stroke-width="1.9" fill="none"/>
<path d="M576.5 419.6L576.5 410.4M572.52 417.3L580.48 412.7M572.52 412.7L580.48 417.3" stroke="#000" stroke-width="1.9" fill="none"/>
<path d="M523.55 447.6L523.55 438.4M519.57 445.3L527.53 440.7M519.57 440.7L527.53 445.3" stroke="#000" stroke-width="1.9" fill="none"/>
<path d="M535.25 447.6L535.25 438.4M531.27 445.3L539.23 440.7M531.27 440.7L539.23 445.3" stroke="#000" stroke-width="1.9" fill="none"/>
</svg></body></html>
